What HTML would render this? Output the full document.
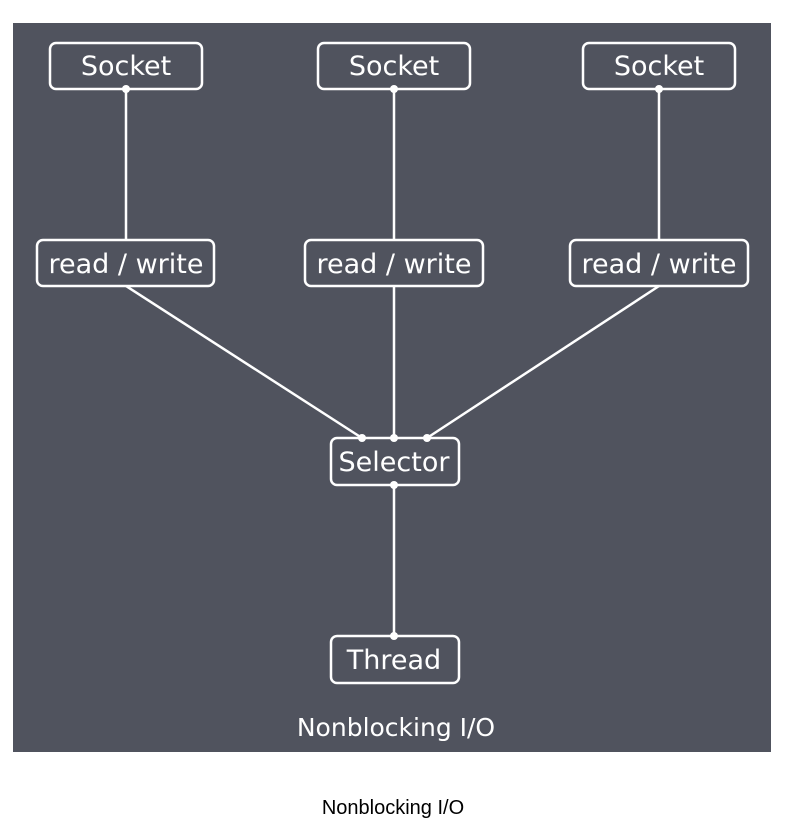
<!DOCTYPE html>
<html><head><style>
body{margin:0;background:#fff;width:789px;height:825px;overflow:hidden;}
</style></head><body>
<svg width="789" height="825" xmlns="http://www.w3.org/2000/svg" style="position:absolute;left:0;top:0">
<rect x="13" y="23" width="758" height="729" fill="#50535e"/>
<g stroke="#fff" stroke-width="2.5" fill="none">
<line x1="126" y1="89" x2="126" y2="240"/>
<line x1="394" y1="89" x2="394" y2="240"/>
<line x1="659" y1="89" x2="659" y2="240"/>
<line x1="126" y1="286" x2="362" y2="438"/>
<line x1="394" y1="286" x2="394" y2="438"/>
<line x1="659" y1="286" x2="427" y2="438"/>
<line x1="394" y1="485" x2="394" y2="636"/>
<rect x="50" y="43" width="152" height="46" rx="6"/>
<rect x="318" y="43" width="152" height="46" rx="6"/>
<rect x="583" y="43" width="152" height="46" rx="6"/>
<rect x="37" y="240" width="177" height="46" rx="6"/>
<rect x="305" y="240" width="178" height="46" rx="6"/>
<rect x="570" y="240" width="178" height="46" rx="6"/>
<rect x="331" y="438" width="128" height="47" rx="6"/>
<rect x="331" y="636" width="128" height="47" rx="6"/>
</g>
<g fill="#fff">
<circle cx="126" cy="89" r="4"/><circle cx="394" cy="89" r="4"/><circle cx="659" cy="89" r="4"/>
<circle cx="362" cy="438" r="4"/><circle cx="394" cy="438" r="4"/><circle cx="427" cy="438" r="4"/>
<circle cx="394" cy="485" r="4"/><circle cx="394" cy="636" r="4"/>
</g>
<g fill="#fff" font-family="DejaVu Sans, Liberation Sans, sans-serif" font-size="27" text-anchor="middle">
<text x="126" y="75">Socket</text>
<text x="394" y="75">Socket</text>
<text x="659" y="75">Socket</text>
<text x="126" y="273">read / write</text>
<text x="394" y="273">read / write</text>
<text x="659" y="273">read / write</text>
<text x="394" y="471">Selector</text>
<text x="394" y="669">Thread</text>
<text x="396" y="736" font-size="25">Nonblocking I/O</text>
</g>
<text x="393" y="814" font-family="Liberation Sans, sans-serif" font-size="20" text-anchor="middle" fill="#000">Nonblocking I/O</text>
</svg>
</body></html>
